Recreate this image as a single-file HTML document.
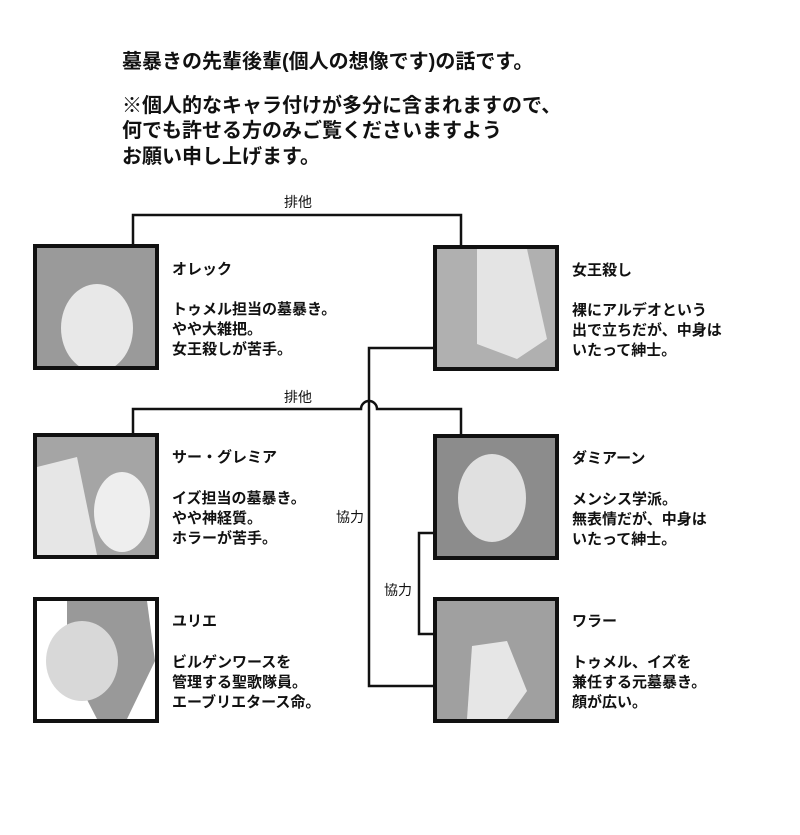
<!DOCTYPE html>
<html><head><meta charset="utf-8"><style>
body{margin:0;width:800px;height:835px;background:#fff;position:relative;overflow:hidden;font-family:"Liberation Sans","Noto Sans CJK JP",sans-serif;color:#111}
.t{position:absolute;white-space:nowrap;font-weight:bold}
.h{font-size:20px;left:122px;line-height:24px}
.n{font-size:15px;line-height:20px}
.box{position:absolute;width:118px;height:118px;border:4px solid #111;background:#9a9a9a;overflow:hidden}
.lbl{position:absolute;font-size:14px;line-height:16px;white-space:nowrap}
</style></head><body>
<div class="t h" style="top:50px">墓暴きの先輩後輩(個人の想像です)の話です。</div>
<div class="t h" style="top:94px">※個人的なキャラ付けが多分に含まれますので、</div>
<div class="t h" style="top:119px">何でも許せる方のみご覧くださいますよう</div>
<div class="t h" style="top:145px">お願い申し上げます。</div>

<svg style="position:absolute;left:0;top:0" width="800" height="835">
<g fill="none" stroke="#111" stroke-width="2.5">
<path d="M133 246 V215 H461 V246"/>
<path d="M133 435 V409 H361 A8 8 0 0 1 377 409 H461 V435"/>
<path d="M436 348 H369 V686 H436"/>
<path d="M436 533 H419 V634 H436"/>
</g>
</svg>
<div class="lbl" style="left:284px;top:194px">排他</div>
<div class="lbl" style="left:284px;top:389px">排他</div>
<div class="lbl" style="left:336px;top:509px">協力</div>
<div class="lbl" style="left:384px;top:582px">協力</div>

<div class="box" style="left:33px;top:244px"><svg width="118" height="118"><ellipse cx="60" cy="80" rx="36" ry="44" fill="#e8e8e8"/></svg></div>
<div class="box" style="left:433px;top:245px;background:#b0b0b0"><svg width="118" height="118"><path d="M40 0 L90 0 L110 90 L80 110 L40 95 Z" fill="#e4e4e4"/></svg></div>
<div class="box" style="left:33px;top:433px;background:#a5a5a5"><svg width="118" height="118"><path d="M0 30 L40 20 L60 118 L0 118Z" fill="#e6e6e6"/><ellipse cx="85" cy="75" rx="28" ry="40" fill="#eee"/></svg></div>
<div class="box" style="left:433px;top:434px;background:#8c8c8c"><svg width="118" height="118"><ellipse cx="55" cy="60" rx="34" ry="44" fill="#e0e0e0"/></svg></div>
<div class="box" style="left:33px;top:597px;background:#fff"><svg width="118" height="118"><path d="M30 0 L110 0 L118 60 L90 118 L60 118 L30 60Z" fill="#999"/><ellipse cx="45" cy="60" rx="36" ry="40" fill="#d8d8d8"/></svg></div>
<div class="box" style="left:433px;top:597px;background:#a0a0a0"><svg width="118" height="118"><path d="M35 45 L70 40 L90 90 L70 118 L30 118Z" fill="#e6e6e6"/></svg></div>

<div class="t n" style="left:172px;top:260px">オレック</div>
<div class="t n" style="left:172px;top:300px">トゥメル担当の墓暴き。<br>やや大雑把。<br>女王殺しが苦手。</div>
<div class="t n" style="left:572px;top:261px">女王殺し</div>
<div class="t n" style="left:572px;top:301px">裸にアルデオという<br>出で立ちだが、中身は<br>いたって紳士。</div>
<div class="t n" style="left:172px;top:448px">サー・グレミア</div>
<div class="t n" style="left:172px;top:489px">イズ担当の墓暴き。<br>やや神経質。<br>ホラーが苦手。</div>
<div class="t n" style="left:572px;top:449px">ダミアーン</div>
<div class="t n" style="left:572px;top:490px">メンシス学派。<br>無表情だが、中身は<br>いたって紳士。</div>
<div class="t n" style="left:172px;top:612px">ユリエ</div>
<div class="t n" style="left:172px;top:653px">ビルゲンワースを<br>管理する聖歌隊員。<br>エーブリエタース命。</div>
<div class="t n" style="left:572px;top:612px">ワラー</div>
<div class="t n" style="left:572px;top:653px">トゥメル、イズを<br>兼任する元墓暴き。<br>顔が広い。</div>
</body></html>
